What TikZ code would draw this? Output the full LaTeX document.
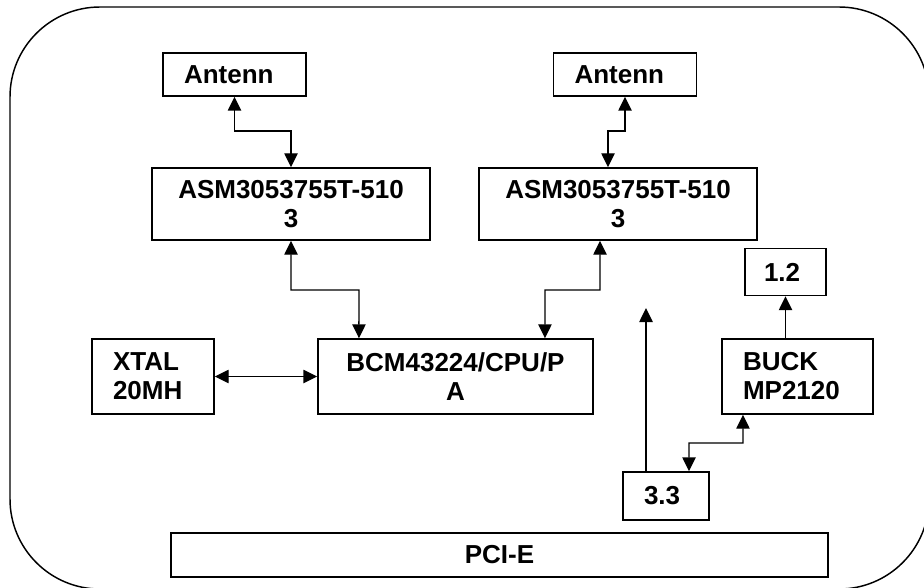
\documentclass[tikz,border=0pt]{standalone}
\usepackage{fontspec}
\setmainfont{Liberation Sans}
\usepackage{tikz}
\usetikzlibrary{arrows.meta}

\tikzset{
  blk/.style={draw, line width=1.1pt, inner sep=0pt, font=\bfseries\fontsize{19.5}{21.75}\selectfont},
  lblk/.style={blk, align=left, inner xsep=15.75pt, text width=#1},
  link/.style={line width=1.1pt, -{Triangle[length=10.5pt,width=10pt]}},
  dlink/.style={line width=1.1pt, {Triangle[length=10.5pt,width=10pt]}-{Triangle[length=10.5pt,width=10pt]}}
}

\begin{document}
\begin{tikzpicture}[x=0.75pt,y=0.75pt,yscale=-1,xscale=1]
\useasboundingbox (0,0) rectangle (924,588);

%Shape: Board outline
\draw [line width=1.1pt, rounded corners=67.5pt] (10,7) rectangle (929,589);

% Blocks
\node [lblk=75.75pt, minimum height=32.25pt] (antL) at (234.5,74.5) {Antenn};
\node [lblk=75.75pt, minimum height=32.25pt] (antR) at (625,74.5) {Antenn};
\node [blk, minimum width=208.5pt, minimum height=54pt, align=center] (asmL) at (291,204) {ASM3053755T-510\\3};
\node [blk, minimum width=208.5pt, minimum height=54pt, align=center] (asmR) at (618,204) {ASM3053755T-510\\3};
\node [lblk=32.25pt, inner xsep=14.25pt, minimum height=35.25pt] (p12) at (785.5,272) {1.2};
\node [lblk=60pt, minimum height=56.25pt] (xtal) at (153,376.5) {XTAL\\20MH};
\node [blk, minimum width=206.25pt, minimum height=56.25pt, align=center] (bcm) at (455.5,376.5) {BCM43224/CPU/P\\A};
\node [lblk=81.75pt, minimum height=56.25pt] (buck) at (797.5,376.5) {BUCK\\MP2120};
\node [lblk=33pt, minimum height=36pt] (p33) at (666,496) {3.3};
\node [blk, minimum width=492.75pt, minimum height=33pt] (pci) at (499.5,555) {PCI-E};
\coordinate (v33) at (646,308);

% Connections
\draw [dlink] (antL.south) |- (291,131) -- (asmL.north);
\draw [dlink] (antR.south) |- (608,131) -- ([xshift=-7.5pt]asmR.north);
\draw [dlink] (asmL.south) |- (359,290) -- ([xshift=-72.4pt]bcm.north);
\draw [dlink] ([xshift=-13.5pt]asmR.south) |- (545,290) -- ([xshift=67.1pt]bcm.north);
\draw [dlink] (xtal.east) -- (bcm.west);
\draw [link] ([xshift=-15pt]p33.north) -- (v33);
\draw [dlink] ([xshift=17.25pt]p33.north) |- (743,443) -- ([xshift=-40.9pt]buck.south);
\draw [link] (buck.north -| p12.south) -- (p12.south);

\end{tikzpicture}
\end{document}
